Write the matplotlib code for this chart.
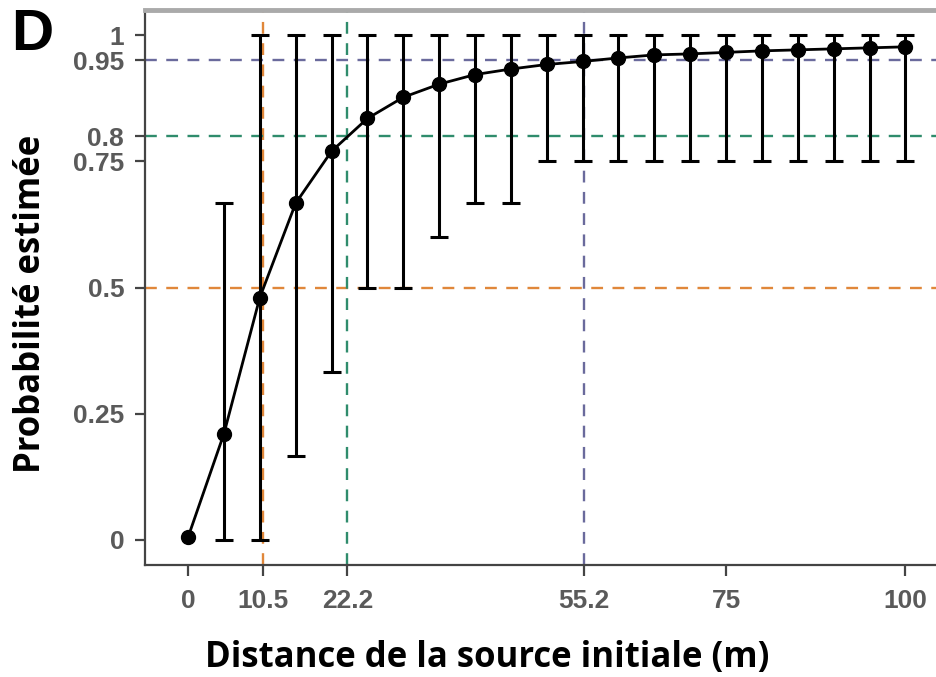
import matplotlib
matplotlib.use("Agg")
import matplotlib.pyplot as plt

# distance (m) and estimated probability with bounds
distance = [0, 5, 10, 15, 20, 25, 30, 35, 40, 45, 50,
            55, 60, 65, 70, 75, 80, 85, 90, 95, 100]
prob = [0.005, 0.21, 0.48, 0.667, 0.77, 0.835, 0.877, 0.903, 0.922, 0.933, 0.942,
        0.948, 0.955, 0.961, 0.963, 0.966, 0.969, 0.971, 0.973, 0.975, 0.977]
lower = [0.005, 0.0, 0.0, 0.167, 0.333, 0.5, 0.5, 0.6, 0.667, 0.667, 0.75,
         0.75, 0.75, 0.75, 0.75, 0.75, 0.75, 0.75, 0.75, 0.75, 0.75]
upper = [0.005, 0.667, 1, 1, 1, 1, 1, 1, 1, 1, 1,
         1, 1, 1, 1, 1, 1, 1, 1, 1, 1]

# thresholds: probability level -> distance
levels = [0.5, 0.8, 0.95]
thresholds = [10.5, 22.2, 55.2]
level_colors = ['#e0873a', '#2f8c6c', '#6a6a9c']

xticks = [0, 10.5, 22.2, 55.2, 75, 100]
xticklabels = ['0', '10.5', '22.2', '55.2', '75', '100']
yticks = [0, 0.25, 0.5, 0.75, 0.8, 0.95, 1]
yticklabels = ['0', '0.25', '0.5', '0.75', '0.8', '0.95', '1']

fig = plt.figure(figsize=(9.37, 6.77), dpi=100)
ax = fig.add_axes([145 / 937, 112 / 677, 792 / 937, 555 / 677])

for lev, thr, col in zip(levels, thresholds, level_colors):
    ax.axhline(lev, color=col, linestyle=(0, (5, 4)), linewidth=1.7, zorder=1)
    ax.axvline(thr, color=col, linestyle=(0, (5, 4)), linewidth=1.7, zorder=1)

# error bars (skip the first point, which has none)
err_x = distance[1:]
err_low = [p - l for p, l in zip(prob[1:], lower[1:])]
err_up = [u - p for p, u in zip(prob[1:], upper[1:])]
ax.errorbar(err_x, prob[1:], yerr=[err_low, err_up], fmt='none',
            ecolor='black', elinewidth=2.2, capsize=6.5, capthick=2.2, zorder=3)
ax.plot(distance, prob, color='black', linewidth=2, marker='o',
        markersize=10, zorder=4)

ax.set_xlim(-6, 104.4)
ax.set_ylim(-0.05, 1.05)
ax.set_xticks(xticks)
ax.set_xticklabels(xticklabels)
ax.set_yticks(yticks)
ax.set_yticklabels(yticklabels)

tick_font = dict(family='Liberation Sans', weight='bold', size=19)
for lab in ax.get_xticklabels() + ax.get_yticklabels():
    lab.set_fontproperties(tick_font)
    lab.set_color('#5a5a5a')
ax.tick_params(axis='both', color='#444444', width=1.6)
ax.tick_params(axis='x', length=8, pad=9)
ax.tick_params(axis='y', length=7, pad=8)

ax.spines['right'].set_visible(False)
ax.spines['left'].set_color('#444444')
ax.spines['left'].set_linewidth(1.6)
ax.spines['bottom'].set_color('#444444')
ax.spines['bottom'].set_linewidth(1.6)
ax.spines['top'].set_color('#aaaaaa')
ax.spines['top'].set_linewidth(3.5)

fig.text(487 / 937, 1 - 667 / 677, 'Distance de la source initiale (m)',
         ha='center', va='baseline', fontsize=25, fontweight='bold',
         family='Open Sans')
fig.text(31 / 937, 1 - 304 / 677, 'Probabilité estimée', rotation=90,
         ha='center', va='center', fontsize=25, fontweight='bold',
         family='Open Sans')
fig.text(11 / 937, 1 - 35 / 677, 'D', ha='left', va='center',
         fontsize=42, fontweight='bold', family='Liberation Sans')

fig.savefig('out.png', dpi=100)
